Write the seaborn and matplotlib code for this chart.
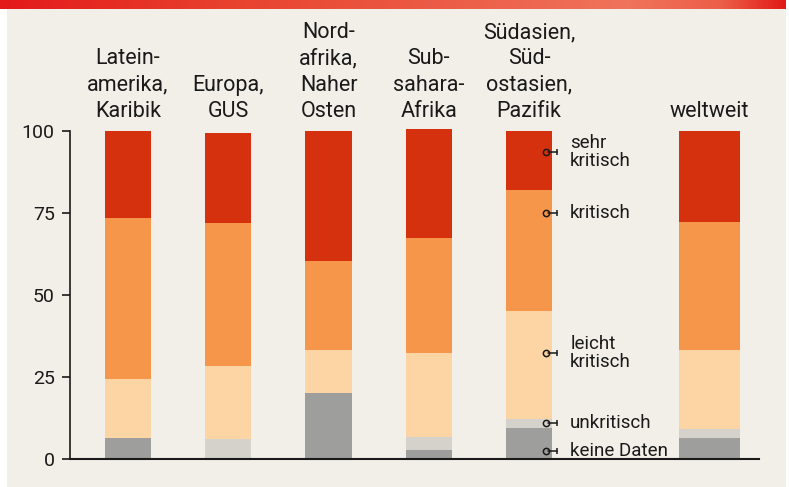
import numpy as np
import pandas as pd
import matplotlib
matplotlib.use("Agg")
import matplotlib.pyplot as plt
import seaborn as sns
from matplotlib.colors import LinearSegmentedColormap
from matplotlib.patches import Rectangle

# ---------------- data ----------------
regions = ["Latein-\namerika,\nKaribik", "Europa,\nGUS", "Nord-\nafrika,\nNaher\nOsten",
           "Sub-\nsahara-\nAfrika", "Südasien,\nSüd-\nostasien,\nPazifik", "weltweit"]
levels = ["keine Daten", "unkritisch", "leicht kritisch", "kritisch", "sehr kritisch"]
keine_daten = [6.4, 0.0, 20.0, 2.6, 9.3, 6.3]
unkritisch = [0.0, 6.0, 0.0, 4.0, 2.7, 2.7]
leicht_kritisch = [17.8, 22.2, 13.1, 25.6, 33.0, 24.1]
kritisch = [49.1, 43.6, 27.1, 35.0, 36.9, 39.0]
sehr_kritisch = [26.7, 27.4, 39.8, 33.3, 18.1, 27.9]
yticks = [0, 25, 50, 75, 100]
ann_labels = ["sehr\nkritisch", "kritisch", "leicht\nkritisch", "unkritisch", "keine Daten"]
ann_y = [93.4, 74.8, 32.2, 10.8, 2.3]

colors = {"keine Daten": "#9E9E9C", "unkritisch": "#D4D2CA", "leicht kritisch": "#FDD4A3",
          "kritisch": "#F5964B", "sehr kritisch": "#D5310F"}
x_pos = [0, 1, 2, 3, 4, 5.8]

# long-form table of cumulative tops (drawn tallest first so segments stack)
series = [keine_daten, unkritisch, leicht_kritisch, kritisch, sehr_kritisch]
rows = []
for i, p in enumerate(x_pos):
    cum = np.cumsum([s[i] for s in series])
    for lev, top in zip(levels, cum):
        rows.append({"pos": p, "level": lev, "top": top, "world": i == 5})
df = pd.DataFrame(rows)

sns.set_theme(style="ticks")
plt.rcParams["font.family"] = ["Roboto", "DejaVu Sans"]
TXT = "#1a1a1a"

fig = plt.figure(figsize=(7.89, 4.87), dpi=100, facecolor="white")
fig.patches.append(Rectangle((7 / 789, 0), (786 - 7) / 789, (487 - 9) / 487,
                             transform=fig.transFigure, facecolor="#F2EFE8",
                             edgecolor="none", zorder=-10))
# top gradient bar
axt = fig.add_axes([0, 1 - 9 / 487, 786 / 789, 9 / 487])
cmap = LinearSegmentedColormap.from_list(
    "g", [(0, "#E3191A"), (0.3, "#E8432F"), (0.8, "#F0735B"), (0.92, "#EC5E48"), (1.0, "#E21A17")])
axt.imshow(np.linspace(0, 1, 256)[None, :], cmap=cmap, aspect="auto", extent=[0, 1, 0, 1])
axt.set_axis_off()

ax = fig.add_axes([70 / 789, (487 - 458.5) / 487, (759 - 70) / 789, 101 * 3.28 / 487])
ax.set_facecolor("none")

order = levels[::-1]
sns.barplot(data=df[~df["world"]], x="pos", y="top", hue="level", hue_order=order,
            palette=colors, dodge=False, native_scale=True, width=0.46, saturation=1,
            errorbar=None, legend=False, linewidth=0, ax=ax)
sns.barplot(data=df[df["world"]], x="pos", y="top", hue="level", hue_order=order,
            palette=colors, dodge=False, native_scale=True, width=0.61, saturation=1,
            errorbar=None, legend=False, linewidth=0, ax=ax)

ax.set_xlim(-0.579, 6.294)
ax.set_ylim(0, 101)
ax.set_xlabel("")
ax.set_ylabel("")
ax.set_xticks([])
ax.set_yticks(yticks)
ax.set_yticklabels([str(t) for t in yticks])
ax.tick_params(axis="y", length=6, width=1.2, color=TXT, labelsize=14, pad=5, labelcolor=TXT)
for s in ["top", "right"]:
    ax.spines[s].set_visible(False)
ax.spines["left"].set_bounds(0, 100)
ax.spines["left"].set_color(TXT)
ax.spines["left"].set_linewidth(1.2)
ax.spines["bottom"].set_color(TXT)
ax.spines["bottom"].set_linewidth(1.5)
ax.spines["bottom"].set_zorder(5)

for p, lab in zip(x_pos, regions):
    ax.text(p, 102.6, lab, ha="center", va="bottom", fontsize=15.5, linespacing=1.33,
            color=TXT, clip_on=False)

for lab, y in zip(ann_labels, ann_y):
    ax.plot([4.19, 4.28], [y, y], color=TXT, lw=1.1, zorder=6, clip_on=False)
    ax.plot([4.28], [y], marker="|", markersize=5, mew=1.1, color=TXT, zorder=6, clip_on=False)
    ax.plot([4.17], [y], marker="o", markersize=4.5, mfc="none", mec=TXT, mew=1.1, zorder=7,
            clip_on=False)
    ax.text(4.41, y, lab, ha="left", va="center", fontsize=13.5, linespacing=1.0, color=TXT)

fig.savefig("out.png", dpi=100, facecolor=fig.get_facecolor())
